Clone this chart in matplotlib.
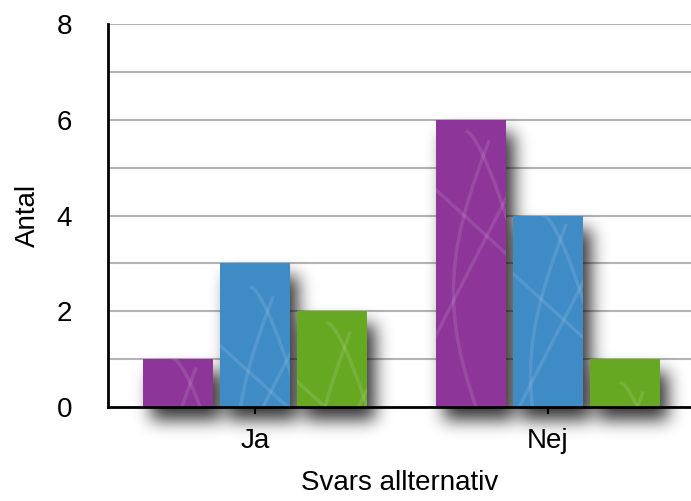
import numpy as np
import matplotlib
matplotlib.use("Agg")
import matplotlib.pyplot as plt
from matplotlib.lines import Line2D

plt.rcParams['font.family'] = ['Liberation Sans', 'DejaVu Sans']

# svar per alternativ
categories = ["Ja", "Nej"]
purple_vals = [1, 6]
blue_vals = [3, 4]
green_vals = [2, 1]
series = [purple_vals, blue_vals, green_vals]
colors = ["#8d3599", "#3f8bc6", "#67a823"]
yticks = [0, 2, 4, 6, 8]

W, H = 691, 501
fig = plt.figure(figsize=(W / 100, H / 100), dpi=100)
ax = fig.add_axes([108 / W, 94 / H, 583 / W, 383 / H])

xlim = (-0.502, 1.488)
ylim = (0, 8)
ax.set_xlim(*xlim)
ax.set_ylim(*ylim)

step, width = 0.263, 0.239
x = np.arange(len(categories))

# gridlines
for yv in range(1, 9):
    ax.axhline(yv, color="#b4b4b4", lw=1.5, zorder=1)

bars = []
for i, vals in enumerate(series):
    b = ax.bar(x + (i - 1) * step, vals, width, color=colors[i], zorder=4, linewidth=0)
    bars.extend(b.patches)

# drop shadow: blurred mask of the bars, shifted right and down
fig.canvas.draw()
mask = np.zeros((H, W))
dx, dy = 8, 13
for p in bars:
    (x0, y0), (x1, y1) = ax.transData.transform([(p.get_x(), 0), (p.get_x() + p.get_width(), p.get_height())])
    c0, c1 = int(round(x0 + dx)), int(round(x1 + dx))
    r0, r1 = int(round(y0 - dy)), int(round(y1 - dy))
    mask[max(r0, 0):r1, c0:c1] = 1.0

sigma = 8.5
k = np.arange(-int(3 * sigma), int(3 * sigma) + 1)
kern = np.exp(-k ** 2 / (2 * sigma ** 2))
kern /= kern.sum()
mask = np.apply_along_axis(lambda r: np.convolve(r, kern, mode="same"), 1, mask)
mask = np.apply_along_axis(lambda c: np.convolve(c, kern, mode="same"), 0, mask)

shadow = np.zeros((H, W, 4))
shadow[..., 3] = mask * 0.8
inv = ax.transData.inverted()
(ex0, ey0), (ex1, ey1) = inv.transform([(0, 0), (W, H)])
ax.imshow(shadow, extent=(ex0, ex1, ey0, ey1), origin="lower", aspect="auto",
          zorder=2, clip_on=False, interpolation="bilinear")
ax.set_xlim(*xlim)
ax.set_ylim(*ylim)

# faint swirl texture inside each bar
px = 383 / 8.0  # pixels per unit
t = np.linspace(0, 1, 80)
swirls = [
    (0.45 + 0.6 * t, 95 * t ** 1.4),
    (-0.05 + 1.1 * t, 55 + 70 * t),
    (1.05 - 1.1 * t, 60 + 150 * t),
    (0.75 - 0.5 * np.sin(np.pi * t * 0.9), 10 + 270 * t),
]
for j, p in enumerate(bars):
    bx, bw, bh = p.get_x(), p.get_width(), p.get_height()
    shift = (j % 3) * 12
    for u, d in swirls:
        xs = bx + u * bw
        ys = bh - (d + shift) / px
        ln = Line2D(xs, ys, color="white", alpha=0.11, lw=2.5, zorder=5)
        ax.add_line(ln)
        ln.set_clip_path(p)

ax.set_xticks(x)
ax.set_xticklabels(categories)
ax.set_yticks(yticks)
ax.tick_params(axis="x", length=5, width=1.5, color="black", pad=10, labelsize=20)
ax.tick_params(axis="y", length=0, pad=26, labelsize=20)

for s in ["top", "right"]:
    ax.spines[s].set_visible(False)
ax.spines["left"].set_linewidth(2)
ax.spines["bottom"].set_linewidth(2)
ax.spines["left"].set_zorder(6)
ax.spines["bottom"].set_zorder(6)

ax.set_ylabel("Antal", fontsize=20, labelpad=11)
ax.set_xlabel("Svars allternativ", fontsize=20, labelpad=12)

fig.savefig("out.png", dpi=100)
